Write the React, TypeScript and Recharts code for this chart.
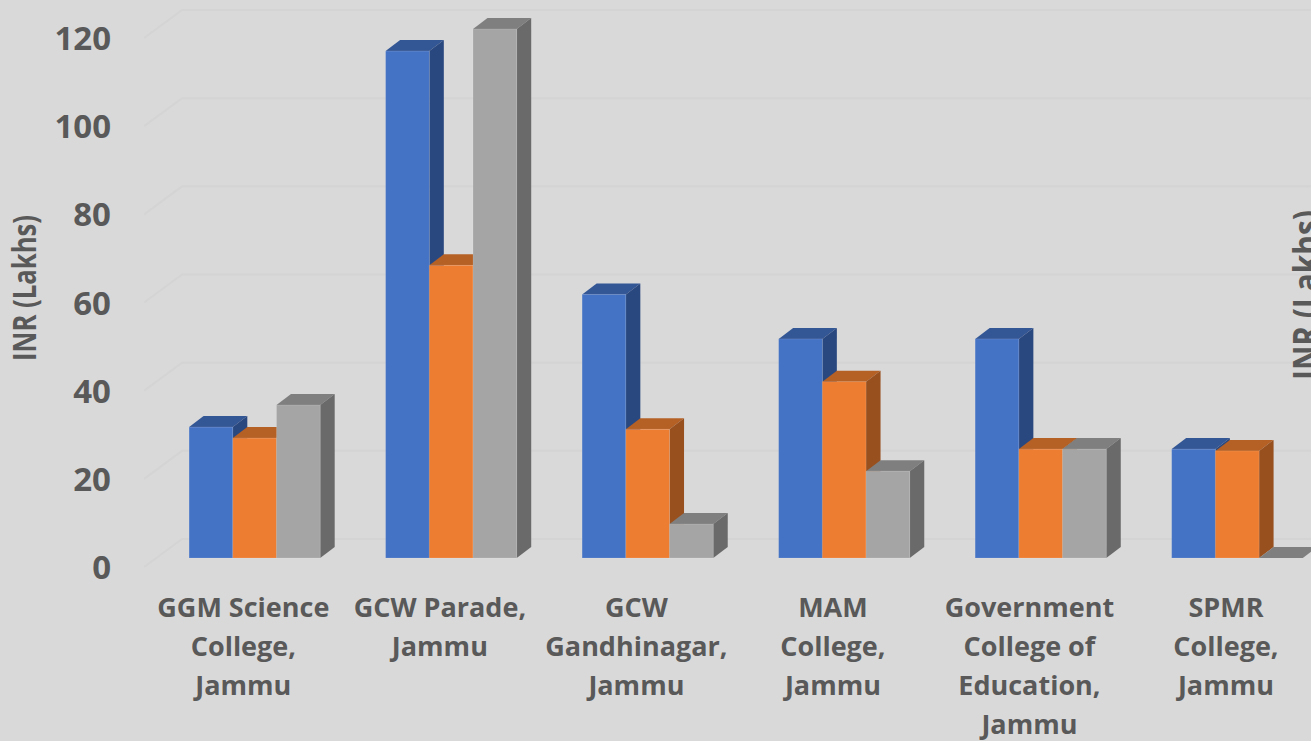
import { BarChart, Bar, XAxis, YAxis, CartesianGrid } from 'recharts';

const categories = [
  'GGM Science\nCollege,\nJammu',
  'GCW Parade,\nJammu',
  'GCW\nGandhinagar,\nJammu',
  'MAM\nCollege,\nJammu',
  'Government\nCollege of\nEducation,\nJammu',
  'SPMR\nCollege,\nJammu',
];
const blueValues = [29.7, 115, 59.8, 49.7, 49.7, 24.7];
const orangeValues = [27.2, 66.4, 29.2, 40, 24.7, 24.3];
const grayValues = [34.7, 120, 7.7, 19.7, 24.7, 0];
const yTicks = [0, 20, 40, 60, 80, 100, 120];

const data = categories.map((name, i) => ({
  name,
  blue: blueValues[i],
  orange: orangeValues[i],
  gray: grayValues[i],
}));

const FONT = '"Open Sans", sans-serif';
const TEXT_COLOR = '#595959';
const BG = '#d9d9d9';
const GRID_COLOR = '#d4d4d4';
const DEPTH_X = 14.5;
const DEPTH_Y = 11;

// front face comes from the bar scale, top and side are just offset from it
function Box3D({ x, y, width, height, front, top, side }: any) {
  const r = x + width;
  const b = y + height;
  return (
    <g>
      <polygon points={`${x},${y} ${x + DEPTH_X},${y - DEPTH_Y} ${r + DEPTH_X},${y - DEPTH_Y} ${r},${y}`} fill={top} />
      <polygon points={`${r},${y} ${r + DEPTH_X},${y - DEPTH_Y} ${r + DEPTH_X},${b - DEPTH_Y} ${r},${b}`} fill={side} />
      {height > 0 && <rect x={x} y={y} width={width} height={height} fill={front} stroke="#ffffff" strokeOpacity={0.12} strokeWidth={1} />}
    </g>
  );
}

function CategoryTick({ x, y, payload }: any) {
  const lines = String(payload.value).split('\n');
  return (
    <text x={x - 11} y={y + 58.5} textAnchor="middle" fontFamily={FONT} fontSize={27} fontWeight={700} fill={TEXT_COLOR}>
      {lines.map((line, i) => (
        <tspan key={i} x={x - 11} dy={i === 0 ? 0 : 39}>{line}</tspan>
      ))}
    </text>
  );
}

function ValueTick({ y, payload }: any) {
  return (
    <text x={111} y={y + 21} textAnchor="end" fontFamily={FONT} fontSize={33} fontWeight={700} fill={TEXT_COLOR}>
      {payload.value}
    </text>
  );
}

// back wall line with the short slanted bit on the left
function GridLine({ x1, y1, x2 }: any) {
  const wallY = y1 - 19;
  return (
    <polyline
      points={`${x1 - 12},${wallY + 28} ${x1 + 26},${wallY} ${x2},${wallY}`}
      fill="none"
      stroke={GRID_COLOR}
      strokeWidth={2}
    />
  );
}

export default function App() {
  return (
    <div style={{ position: 'fixed', left: 0, top: 0, width: 1311, height: 741, overflow: 'hidden', background: BG }}>
      <BarChart
        width={1346}
        height={741}
        data={data}
        barGap={0}
        barSize={43.7}
        margin={{ top: 29, right: 10.8, bottom: 0, left: 0 }}
      >
        <CartesianGrid vertical={false} horizontal={(p: any) => <GridLine key={p.key ?? p.y1} {...p} />} />
        <XAxis dataKey="name" interval={0} height={183} axisLine={false} tickLine={false} tickSize={0} tickMargin={0} tick={<CategoryTick />} />
        <YAxis width={156.1} domain={[0, 120]} ticks={yTicks} axisLine={false} tickLine={false} tick={<ValueTick />} />
        <Bar dataKey="blue" isAnimationActive={false} shape={(p: any) => <Box3D {...p} front="#4472c4" top="#335694" side="#2a4880" />} />
        <Bar dataKey="orange" isAnimationActive={false} shape={(p: any) => <Box3D {...p} front="#ed7d31" top="#b56024" side="#98501f" />} />
        <Bar dataKey="gray" isAnimationActive={false} shape={(p: any) => <Box3D {...p} front="#a5a5a5" top="#7f7f7f" side="#6a6a6a" />} />
        <text transform="translate(35.5 288) rotate(-90)" textAnchor="middle" fontFamily={FONT} fontSize={33} fontWeight={700} fill={TEXT_COLOR} textLength={146} lengthAdjust="spacingAndGlyphs">INR (Lakhs)</text>
        <text transform="translate(1319 295) rotate(-90)" textAnchor="middle" fontFamily={FONT} fontSize={36} fontWeight={700} fill={TEXT_COLOR} textLength={170} lengthAdjust="spacingAndGlyphs">INR (Lakhs)</text>
      </BarChart>
    </div>
  );
}
